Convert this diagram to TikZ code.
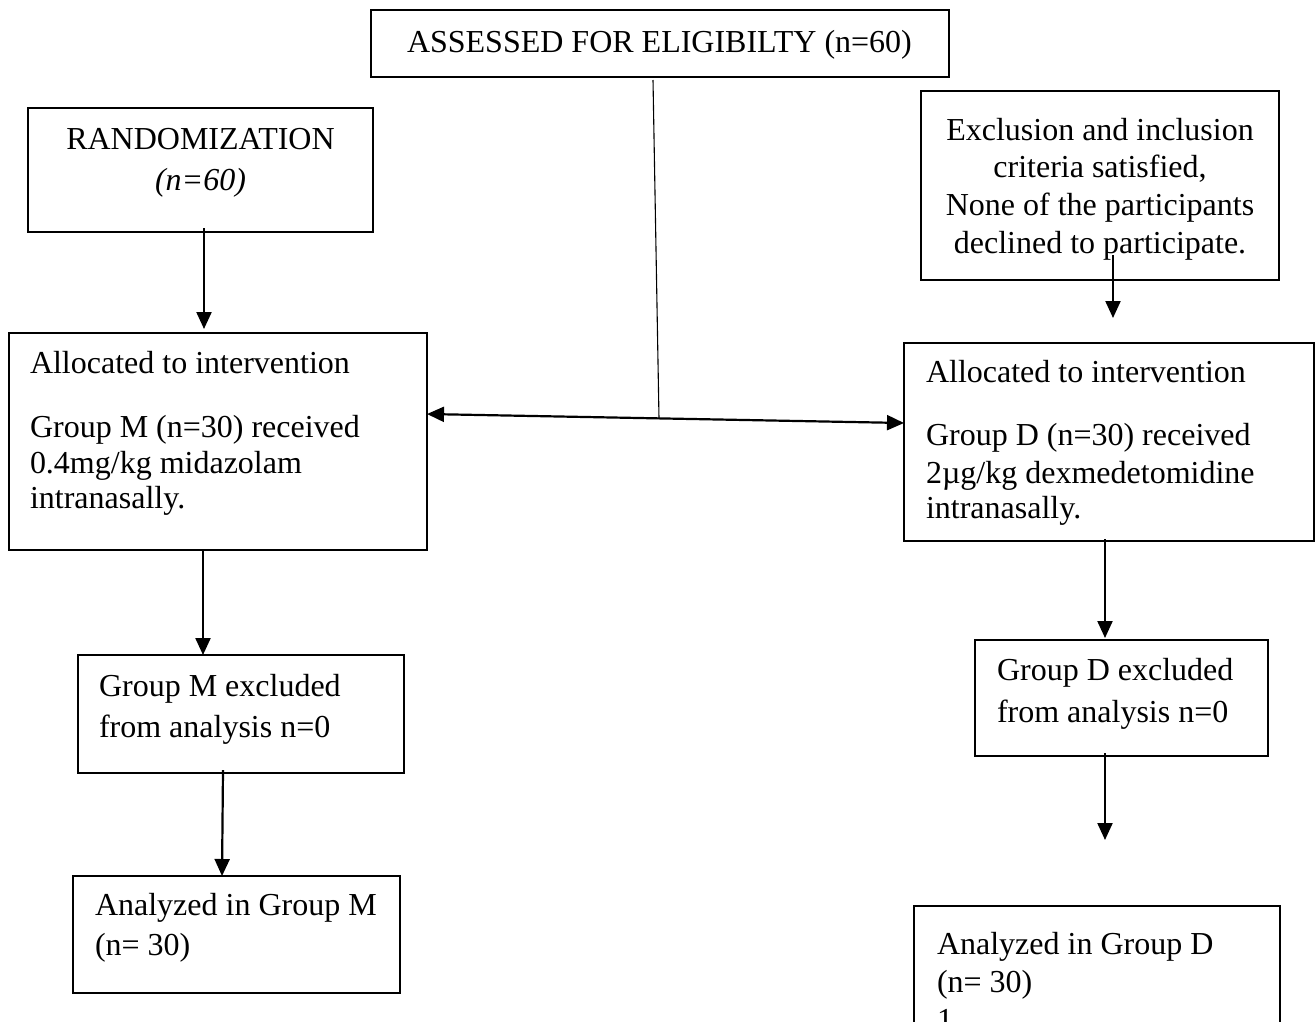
\documentclass[tikz,border=0pt]{standalone}
\usepackage{fontspec}
\setmainfont{Liberation Serif}
\usetikzlibrary{arrows.meta}
\begin{document}
\begin{tikzpicture}[x=1pt,y=-1pt,
  box/.style={draw, line width=2pt, inner sep=0pt, outer sep=0pt},
  txt/.style={inner sep=0pt, outer sep=0pt, font=\fontsize{32}{38}\selectfont},
  arr/.style={line width=2.2pt, -{Triangle[length=17pt,width=15pt]}},
  darr/.style={line width=2.2pt, {Triangle[length=17pt,width=15pt]}-{Triangle[length=17pt,width=15pt]}},
  thin/.style={line width=1.1pt}]
\useasboundingbox (0,0) rectangle (1315,1021);

% boxes
\node[box, minimum width=578pt, minimum height=67pt] (assess) at (660,43.5) {};
\node[box, minimum width=345pt, minimum height=124pt] (rand) at (200.5,170) {};
\node[box, minimum width=358pt, minimum height=189pt] (excl) at (1100,185.5) {};
\node[box, minimum width=418pt, minimum height=217pt] (allocM) at (218,441.5) {};
\node[box, minimum width=410pt, minimum height=198pt] (allocD) at (1109,442) {};
\node[box, minimum width=326pt, minimum height=118pt] (exclM) at (241,714) {};
\node[box, minimum width=293pt, minimum height=116pt] (exclD) at (1121.5,698) {};
\node[box, minimum width=327pt, minimum height=117pt] (anaM) at (236.5,934.5) {};
\node[box, minimum width=366pt, minimum height=134pt] (anaD) at (1097,973) {};

% texts
\node[txt, anchor=base west] (tAssess) at (407,52) {ASSESSED FOR ELIGIBILTY (n=60)};
\node[txt, anchor=base] (tRand1) at (200.5,149) {RANDOMIZATION};
\node[txt, anchor=base] (tRand2) at (200.5,190) {\itshape (n=60)};
\node[txt, anchor=base] (tEx1) at (1100,140) {Exclusion and inclusion};
\node[txt, anchor=base] (tEx2) at (1100,177) {criteria satisfied,};
\node[txt, anchor=base] (tEx3) at (1100,215) {None of the participants};
\node[txt, anchor=base] (tEx4) at (1100,253) {declined to participate.};
\node[txt, anchor=base west] (tAM1) at (30,373) {Allocated to intervention};
\node[txt, anchor=base west] (tAM2) at (30,437) {Group M (n=30) received};
\node[txt, anchor=base west] (tAM3) at (30,473) {0.4mg/kg midazolam};
\node[txt, anchor=base west] (tAM4) at (30,508) {intranasally.};
\node[txt, anchor=base west] (tAD1) at (926,382) {Allocated to intervention};
\node[txt, anchor=base west] (tAD2) at (926,445) {Group D (n=30) received};
\node[txt, anchor=base west] (tAD3) at (926,483) {2µg/kg dexmedetomidine};
\node[txt, anchor=base west] (tAD4) at (926,518) {intranasally.};
\node[txt, anchor=base west] (tEM1) at (99,696) {Group M excluded};
\node[txt, anchor=base west] (tEM2) at (99,737) {from analysis n=0};
\node[txt, anchor=base west] (tED1) at (997,680) {Group D excluded};
\node[txt, anchor=base west] (tED2) at (997,722) {from analysis n=0};
\node[txt, anchor=base west] (tNM1) at (95,915) {Analyzed in Group M};
\node[txt, anchor=base west] (tNM2) at (95,955) {(n= 30)};
\node[txt, anchor=base west] (tND1) at (937,954) {Analyzed in Group D};
\node[txt, anchor=base west] (tND2) at (937,992) {(n= 30)};
\node[txt, anchor=base west] (tND3) at (937,1030) {1};

% connectors
\coordinate (junc) at (659,418.5);
\coordinate (dEnd) at (1105,840);
\draw[thin] ([xshift=-7pt,yshift=-3pt]assess.south) -- (junc);
\draw[darr] ([yshift=27.5pt]allocM.east) -- ([yshift=19pt]allocD.west);
\draw[arr] ([xshift=3.5pt,yshift=4pt]rand.south) -- ([xshift=3.5pt,yshift=4pt]rand.south |- allocM.north);
\draw[arr] ([xshift=13pt,yshift=25pt]excl.south) -- ([xshift=13pt,yshift=25pt]excl.south |- allocD.north);
\draw[arr] ([xshift=-15pt]allocM.south) -- ([xshift=-15pt]allocM.south |- exclM.north);
\draw[arr] ([xshift=-4pt,yshift=2pt]allocD.south) -- ([xshift=-4pt,yshift=2pt]allocD.south |- exclD.north);
\draw[arr] ([xshift=-18pt,yshift=3pt]exclM.south) -- ([xshift=-14.5pt]anaM.north);
\draw[arr] ([xshift=-16.5pt,yshift=3pt]exclD.south) -- (dEnd);
\end{tikzpicture}
\end{document}
